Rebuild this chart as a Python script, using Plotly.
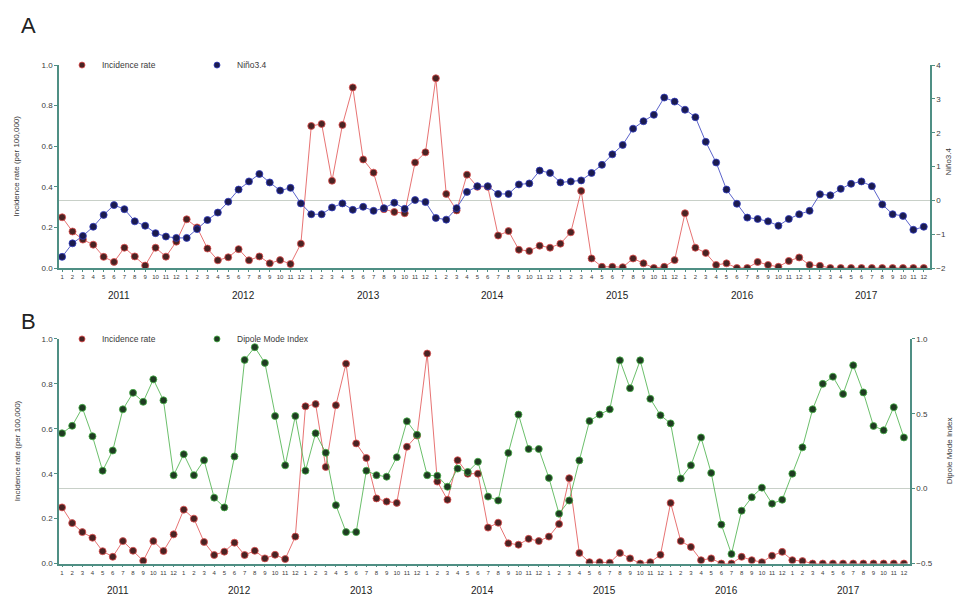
import plotly.graph_objects as go

years = ["2011", "2012", "2013", "2014", "2015", "2016", "2017"]
months = [str(m) for m in range(1, 13)]
month_labels = months * len(years)

incidence = [
    0.25, 0.18, 0.14, 0.115, 0.055, 0.03, 0.10, 0.057, 0.012, 0.10, 0.056, 0.13,
    0.24, 0.20, 0.096, 0.038, 0.053, 0.093, 0.038, 0.057, 0.023, 0.039, 0.02, 0.12,
    0.70, 0.71, 0.43, 0.705, 0.89, 0.535, 0.47, 0.29, 0.276, 0.27, 0.52, 0.57,
    0.935, 0.365, 0.284, 0.46, 0.40, 0.40, 0.16, 0.182, 0.09, 0.084, 0.11, 0.10,
    0.12, 0.176, 0.38, 0.047, 0.006, 0.006, 0.004, 0.047, 0.023, 0.0, 0.006, 0.039,
    0.27, 0.10, 0.074, 0.015, 0.023, 0.0, 0.0, 0.03, 0.015, 0.006, 0.035, 0.052,
    0.015, 0.011, 0.0, 0.0, 0.0, 0.0, 0.0, 0.0, 0.0, 0.0, 0.0, 0.0,
]

nino34 = [
    -1.67, -1.27, -1.05, -0.78, -0.43, -0.14, -0.26, -0.62, -0.75, -0.97, -1.07, -1.11,
    -1.11, -0.85, -0.58, -0.36, -0.04, 0.32, 0.56, 0.78, 0.53, 0.29, 0.37, -0.09,
    -0.41, -0.41, -0.21, -0.09, -0.28, -0.19, -0.31, -0.23, -0.07, -0.25, 0.01, -0.05,
    -0.52, -0.57, -0.23, 0.25, 0.42, 0.42, 0.19, 0.19, 0.47, 0.50, 0.88, 0.81,
    0.53, 0.56, 0.59, 0.81, 1.05, 1.36, 1.64, 2.12, 2.34, 2.53, 3.04, 2.92,
    2.68, 2.46, 1.73, 1.12, 0.32, -0.10, -0.51, -0.55, -0.62, -0.75, -0.55, -0.41,
    -0.31, 0.18, 0.15, 0.34, 0.49, 0.56, 0.42, -0.12, -0.41, -0.46, -0.87, -0.78,
]

dmi = [
    0.37, 0.42, 0.54, 0.35, 0.12, 0.255, 0.53, 0.64, 0.58, 0.73, 0.59, 0.09,
    0.23, 0.09, 0.19, -0.06, -0.125, 0.215, 0.86, 0.945, 0.84, 0.485, 0.156, 0.485,
    0.12, 0.37, 0.24, -0.11, -0.29, -0.29, 0.12, 0.09, 0.08, 0.21, 0.45, 0.36,
    0.09, 0.086, 0.013, 0.134, 0.112, 0.18, -0.053, -0.079, 0.239, 0.495, 0.265, 0.265,
    0.072, -0.167, -0.079, 0.189, 0.452, 0.495, 0.53, 0.857, 0.671, 0.857, 0.60, 0.49,
    0.436, 0.068, 0.156, 0.342, 0.105, -0.24, -0.436, -0.147, -0.057, 0.007, -0.10, -0.074,
    0.10, 0.276, 0.53, 0.70, 0.748, 0.632, 0.824, 0.643, 0.419, 0.39, 0.544, 0.342,
]

left_ticks = [0.0, 0.2, 0.4, 0.6, 0.8, 1.0]
nino_ticks = [-2, -1, 0, 1, 2, 3, 4]
dmi_ticks = [-0.5, 0.0, 0.5, 1.0]

x = list(range(len(month_labels)))

W, H = 956, 605


def px(v):
    return v / W


def py(v):
    return (H - v) / H


AX = "#4f8f84"
TXT = "#3a3a3a"
RED_LINE = "rgba(225,80,80,0.8)"
RED_MK = "#4a2323"
BLUE_LINE = "rgba(50,60,190,0.8)"
BLUE_MK = "#1b1b4f"
GREEN_LINE = "rgba(70,175,70,0.8)"
GREEN_MK = "#1f3b22"

fig = go.Figure()


def series(y, xa, ya, line_c, mk_c, name):
    return go.Scatter(
        x=x, y=y, xaxis=xa, yaxis=ya, mode="lines+markers", name=name,
        line=dict(color=line_c, width=1),
        marker=dict(color=mk_c, size=7, line=dict(color=line_c, width=1)),
        showlegend=False,
    )


def legend_item(name, line_c, mk_c, legend):
    return go.Scatter(
        x=[None], y=[None], mode="markers", name=name, legend=legend,
        marker=dict(color=mk_c, size=6, line=dict(color=line_c, width=1)),
        xaxis="x", yaxis="y",
    )


fig.add_trace(series(incidence, "x", "y", RED_LINE, RED_MK, "Incidence rate"))
fig.add_trace(series(nino34, "x", "y2", BLUE_LINE, BLUE_MK, "Niño3.4"))
fig.add_trace(series(incidence, "x2", "y3", RED_LINE, RED_MK, "Incidence rate"))
fig.add_trace(series(dmi, "x2", "y4", GREEN_LINE, GREEN_MK, "Dipole Mode Index"))

fig.add_trace(legend_item("Incidence rate", RED_LINE, RED_MK, "legend"))
fig.add_trace(legend_item("Niño3.4", BLUE_LINE, BLUE_MK, "legend"))
fig.add_trace(legend_item("Incidence rate", RED_LINE, RED_MK, "legend2"))
fig.add_trace(legend_item("Dipole Mode Index", GREEN_LINE, GREEN_MK, "legend2"))

xcommon = dict(
    tickmode="array", tickvals=x, ticktext=month_labels, tickangle=0,
    tickfont=dict(size=6, color=TXT), ticks="outside", ticklen=2, tickcolor=AX,
    showline=True, linecolor=AX, linewidth=1.5, showgrid=False, zeroline=False,
    range=[-0.3, 83.6],
)
ycommon = dict(
    showline=True, linecolor=AX, linewidth=1.5, showgrid=False,
    ticks="outside", ticklen=3, tickcolor=AX, tickfont=dict(size=8, color=TXT),
)

panelA = [py(268), py(62)]
panelB = [py(568), py(340)]

legend_common = dict(
    orientation="h", xanchor="left", yanchor="middle",
    font=dict(size=8.5, color=TXT), bgcolor="rgba(0,0,0,0)",
    itemwidth=30, tracegroupgap=0, entrywidth=90, entrywidthmode="pixels",
)

fig.update_layout(
    width=W, height=H,
    margin=dict(l=0, r=0, t=0, b=0),
    paper_bgcolor="white", plot_bgcolor="white",
    font=dict(family="Liberation Sans, Arial, sans-serif", color=TXT),
    xaxis=dict(domain=[px(59), px(930)], anchor="y", **xcommon),
    yaxis=dict(domain=panelA, anchor="x", range=[0, 1.0], tickvals=left_ticks,
               tickformat=".1f", zeroline=False, **ycommon),
    yaxis2=dict(overlaying="y", side="right", anchor="x", range=[-2, 4],
                tickvals=nino_ticks, zeroline=True, zerolinecolor="#c8d0c8",
                zerolinewidth=1.2, **ycommon),
    xaxis2=dict(domain=[px(59), px(910)], anchor="y3", **xcommon),
    yaxis3=dict(domain=panelB, anchor="x2", range=[0, 1.0], tickvals=left_ticks,
                tickformat=".1f", zeroline=False, **ycommon),
    yaxis4=dict(overlaying="y3", side="right", anchor="x2", range=[-0.5, 1.0],
                tickvals=dmi_ticks, tickformat=".1f", zeroline=True,
                zerolinecolor="#c8d0c8", zerolinewidth=1.2, **ycommon),
    legend=dict(x=px(62), y=py(62), **legend_common),
    legend2=dict(x=px(62), y=py(340), **legend_common),
)

annotations = []
for k, yr in enumerate(years):
    annotations.append(dict(x=12 * k + 5.5, y=py(296), xref="x", yref="paper",
                            xanchor="center", yanchor="middle",
                            text=yr, showarrow=False, font=dict(size=10, color="#222")))
    annotations.append(dict(x=12 * k + 5.5, y=py(595), xref="x2", yref="paper",
                            xanchor="center", yanchor="middle",
                            text=yr, showarrow=False, font=dict(size=10, color="#222")))


def label(xp, yp, text, size, angle=0, color=TXT):
    return dict(x=px(xp), y=py(yp), xref="paper", yref="paper", text=text,
                xanchor="center", yanchor="middle", textangle=angle,
                showarrow=False, font=dict(size=size, color=color))


annotations += [
    label(28, 22, "A", 22, color="#222"),
    label(28, 322, "B", 22, color="#222"),
    label(17, 165, "Incidence rate (per 100,000)", 8, -90),
    label(17, 454, "Incidence rate (per 100,000)", 8, -90),
    label(949, 160, "Niño3.4", 8, -90),
    label(949, 454, "Dipole Mode Index", 8, -90),
]
fig.update_layout(annotations=annotations)

# remove the browser's default body margin so the figure fills the window exactly
fig.write_html(
    "out.html",
    config={"displayModeBar": False},
    post_script="document.body.style.margin='0';"
                "document.documentElement.style.overflow='hidden';",
)
